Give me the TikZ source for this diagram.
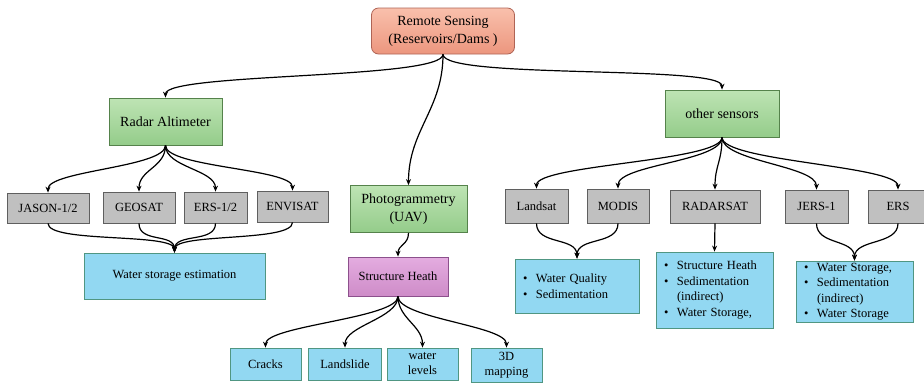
\documentclass[tikz,border=0pt]{standalone}
\usepackage{fontspec}
\setmainfont{Liberation Serif}
\usepackage{tikz}
\usetikzlibrary{arrows,arrows.meta,positioning,calc}
\definecolor{rootline}{RGB}{175,100,85}
\definecolor{greenline}{RGB}{85,130,75}
\definecolor{grayline}{RGB}{95,95,95}
\definecolor{blueline}{RGB}{80,150,130}
\definecolor{purpleline}{RGB}{140,80,140}
\definecolor{satgray}{RGB}{192,192,192}
\definecolor{useblue}{RGB}{146,216,242}
\tikzstyle{rootbox}=[draw=rootline,thick,rounded corners=7pt,top color={rgb,255:red,249;green,192;blue,172},bottom color={rgb,255:red,236;green,150;blue,126},align=center,font=\fontsize{14}{18}\selectfont,inner sep=0pt]
\tikzstyle{sensorbox}=[draw=greenline,thick,top color={rgb,255:red,190;green,228;blue,180},bottom color={rgb,255:red,148;green,204;blue,138},align=center,font=\fontsize{14}{17.5}\selectfont,inner sep=0pt]
\tikzstyle{satbox}=[draw=grayline,thick,fill=satgray,font=\fontsize{12.5}{15}\selectfont,inner sep=0pt]
\tikzstyle{usebox}=[draw=blueline,thick,fill=useblue,align=center,font=\fontsize{12.5}{15}\selectfont,inner sep=0pt]
\tikzstyle{listbox}=[draw=blueline,thick,fill=useblue,align=left,font=\fontsize{12.5}{15.5}\selectfont,inner ysep=0pt]
\tikzstyle{healthbox}=[draw=purpleline,thick,top color={rgb,255:red,228;green,172;blue,224},bottom color={rgb,255:red,206;green,140;blue,200},font=\fontsize{12.5}{15}\selectfont,inner sep=0pt]
\tikzset{link/.style={-{Stealth[length=6pt,width=5pt]},line width=1.2pt},
  sway/.style={to path={.. controls +(0,#1) and +(0,-#1) .. (\tikztotarget)}}}
\newcommand{\bul}{\makebox[13pt][l]{\textbullet}}
\newcommand{\hang}{\hspace*{13pt}}
\begin{document}
\begin{tikzpicture}[x=1pt,y=-1pt]
  \useasboundingbox (0,0) rectangle (924,384);
  % top level
  \node [rootbox,minimum width=143pt,minimum height=46pt] (root) at (443,31) {Remote Sensing\\(Reservoirs/Dams )};
  \node [sensorbox,minimum width=113pt,minimum height=47pt] (radar) at (165.5,121.5) {Radar Altimeter};
  \node [sensorbox,minimum width=117pt,minimum height=47pt] (photo) at (408.5,209) {Photogrammetry\\(UAV)};
  \node [sensorbox,minimum width=114pt,minimum height=47pt] (other) at (722,113.5) {other sensors};
  % altimeters
  \node [satbox,minimum width=82pt,minimum height=30pt] (jason) at (48,208) {JASON-1/2};
  \node [satbox,minimum width=72pt,minimum height=31pt] (geosat) at (139,207.5) {GEOSAT};
  \node [satbox,minimum width=63pt,minimum height=31pt] (ers12) at (215.5,207.5) {ERS-1/2};
  \node [satbox,minimum width=71pt,minimum height=31pt] (envisat) at (292.5,206.5) {ENVISAT};
  \node [usebox,minimum width=181pt,minimum height=46pt] (storage) at (174.5,276) {Water storage estimation};
  % UAV
  \node [healthbox,minimum width=100pt,minimum height=39pt] (health) at (398,276.5) {Structure Heath};
  \node [usebox,minimum width=71pt,minimum height=32pt] (cracks) at (265.5,364) {Cracks};
  \node [usebox,minimum width=73pt,minimum height=32pt] (slide) at (345,364) {Landslide};
  \node [usebox,minimum width=71pt,minimum height=32pt] (levels) at (422.5,364) {water\\levels};
  \node [usebox,minimum width=71pt,minimum height=34pt] (mapping) at (506.5,365) {3D\\mapping};
  % other sensors
  \node [satbox,minimum width=63pt,minimum height=34pt] (landsat) at (536.5,206) {Landsat};
  \node [satbox,minimum width=62pt,minimum height=34pt] (modis) at (618,206) {MODIS};
  \node [satbox,minimum width=90pt,minimum height=33pt] (radarsat) at (715,206.5) {RADARSAT};
  \node [satbox,minimum width=63pt,minimum height=33pt] (jers) at (816.5,206.5) {JERS-1};
  \node [satbox,minimum width=60pt,minimum height=33pt] (ers) at (898,206.5) {ERS};
  \node [listbox,minimum width=124pt,minimum height=54pt,text width=108pt,inner xsep=8pt] (quality) at (577,286) {\bul Water Quality\\\bul Sedimentation};
  \node [listbox,minimum width=117pt,minimum height=76pt,text width=101pt,inner xsep=8pt] (structure) at (714.5,290) {\bul Structure Heath\\\bul Sedimentation\\\hang(indirect)\\\bul Water Storage,};
  \node [listbox,minimum width=117pt,minimum height=61pt,text width=101pt,inner xsep=8pt] (storage2) at (854.5,291.5) {\bul Water Storage,\\\bul Sedimentation\\\hang(indirect)\\\bul Water Storage};
  % connectors
  \draw [link] (root.south) to[sway=25] (radar.north);
  \draw [link] (root.south) to[sway=55] (photo.north);
  \draw [link] (root.south) to[sway=25] (other.north);
  \foreach \sat in {jason,geosat,ers12,envisat}{
    \draw [link] (radar.south) to[sway=22] (\sat.north);
    \draw [link] (\sat.south) to[sway=20] (storage.north);
  }
  \draw [link] (photo.south) to[sway=12] (health.north);
  \foreach \use in {cracks,slide,levels,mapping}
    \draw [link] (health.south) to[sway=22] (\use.north);
  \foreach \sat in {landsat,modis,radarsat,jers,ers}
    \draw [link] (other.south) to[sway=24] (\sat.north);
  \draw [link] (landsat.south) to[sway=22] (quality.north);
  \draw [link] (modis.south) to[sway=22] (quality.north);
  \draw [link] (radarsat.south) -- (structure.north);
  \draw [link] (jers.south) to[sway=22] (storage2.north);
  \draw [link] (ers.south) to[sway=22] (storage2.north);
\end{tikzpicture}
\end{document}
